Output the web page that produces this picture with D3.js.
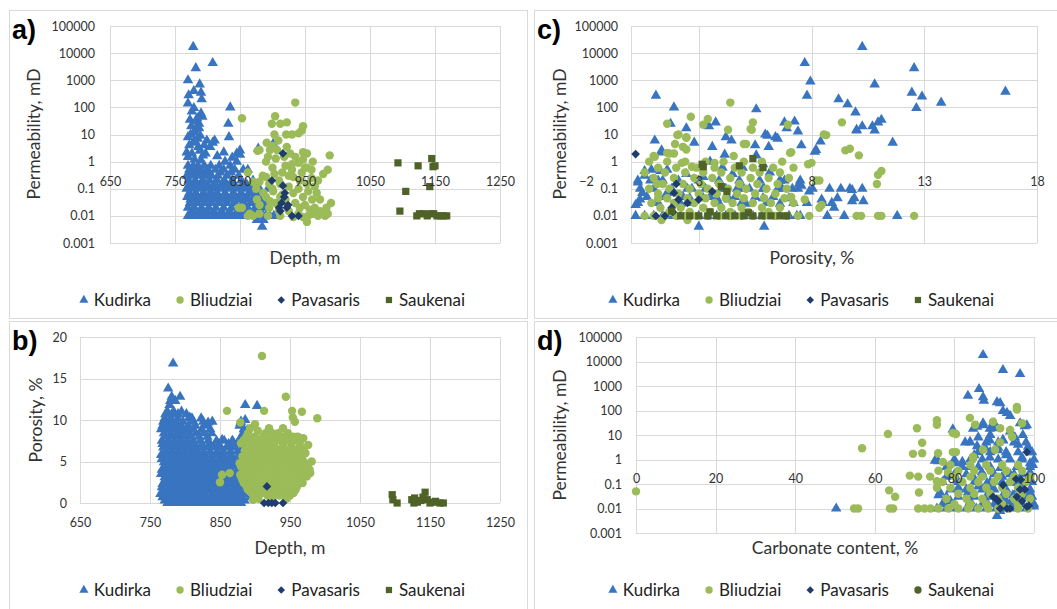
<!DOCTYPE html>
<html>
<head>
<meta charset="utf-8">
<script src="https://cdn.jsdelivr.net/npm/d3@7"></script>
<style>
  body { margin: 0; background: #fff; }
  svg { display: block; }
  text { font-family: Lato, "Open Sans", sans-serif; }
</style>
</head>
<body>
<svg id="chart" width="1057" height="609"></svg>
<script>
// ---- data ----
// series names, in drawing order
var seriesNames = ["Kudirka", "Bliudziai", "Pavasaris", "Saukenai"];

// tick values
var depthTicks = [650, 750, 850, 950, 1050, 1150, 1250];
var permTicks = [0.001, 0.01, 0.1, 1, 10, 100, 1000, 10000, 100000];
var porTicks = [0, 5, 10, 15, 20];
var porXTicks = [-2, 3, 8, 13, 18];
var carbTicks = [0, 20, 40, 60, 80, 100];

// a) depth vs permeability  [depth, perm]
var aKudirka = [[778,17000],[808,4300],[782,2800],[770,1000],[788,700],[790,350],[779,400],[771,280],[791,200],[770,140],[779,95],[835,100],[790,60],[773,35],[783,30],[787,25],[775,20],[770,8],[780,12],[787,17],[799,6],[811,6],[808,5],[832,25],[833,8],[778,5],[786,3.5],[768,2.2],[804,3.5],[825,2.2],[845,2],[878,3],[901,4.5],[776,2],[793,1.7],[781,15],[784,40],[776,70],[792,45],[774,10],[789,9],[780,6],[795,4],[772,4],[785,7],[788,2.5],[797,2],[770,1.5],[780,1.2],[790,1.1],[815,1.6],[827,1],[838,1.4],[850,2.6],[850,1.8],[862,0.5],[845,1],[886,0.007],[884,0.004],[876,0.007]];
// dense part, one row per permeability level: [perm, [depths]]
var aKudirkaRows = [
  [0.7,[770,778,785,795,805,818,835]],
  [0.5,[772,780,790,800,812,825,842,855]],
  [0.4,[775,784,793,803,820,836]],
  [0.3,[768,776,786,796,806,816,830,848]],
  [0.2,[771,781,792,803,815,826,838,852,870]],
  [0.15,[774,784,797,810,822,835,860]],
  [0.12,[770,780,791,802,814,828,842,852,864,876]],
  [0.1,[768,777,788,798,808,820,832,845,857,868,880,893]],
  [0.07,[772,782,794,805,815,827,840,852,865,876]],
  [0.05,[769,779,790,801,812,824,836,848,860,872,885]],
  [0.04,[774,785,796,807,818,829,841,853,864,876,888]],
  [0.03,[773,784,795,806,818,830,842,855,867,878,890]],
  [0.02,[770,780,791,802,813,825,837,850,862,874,886]],
  [0.015,[776,788,799,810,822,834,846,858,870,882]],
  [0.01,[770,776,782,788,794,800,806,812,818,824,830,836,842,848,854,860,866,872,878,884,890,896,902]]
];
var aBliudziai = [[853,40],[935,150],[904,47],[899,25],[912,25],[922,28],[947,20],[945,14],[930,10],[940,11],[909,6],[903,10],[921,10],[891,5],[900,3.8],[877,2.5],[907,2.7],[947,2.2],[988,1.7],[927,2],[893,1.5],[880,2.7],[896,2.7],[922,3.5],[953,2],[947,1.2],[962,1],[953,0.6],[985,0.5],[978,0.35],[862,0.4],[870,0.18],[880,0.18],[890,0.27],[903,0.35],[912,0.15],[932,0.27],[942,0.2],[953,0.15],[965,0.12],[968,0.07],[973,0.04],[961,0.04],[947,0.05],[932,0.07],[901,0.08],[886,0.07],[876,0.04],[896,0.035],[912,0.05],[942,0.02],[958,0.017],[973,0.015],[983,0.02],[853,0.02],[865,0.012],[880,0.012],[893,0.01],[912,0.01],[932,0.009],[947,0.009],[962,0.012],[981,0.01],[953,0.006],[870,0.01],[862,0.01],[848,0.02],[920,0.7],[930,0.5],[940,0.9],[950,0.6],[925,0.3],[915,0.4],[900,0.6],[890,1],[905,1.3],[935,1.5],[960,0.25],[970,0.2],[955,0.08],[940,0.1],[925,0.12],[910,0.2],[895,0.15],[885,0.3],[875,0.1],[890,0.05],[905,0.03],[920,0.04],[935,0.03],[950,0.025],[965,0.02],[925,0.015],[910,0.015],[895,0.02],[880,0.025],[940,0.012],[955,0.01],[970,0.01],[985,0.012],[990,0.03],[900,0.1],[915,0.06],[945,0.4],[930,0.8],[918,1.5],[960,0.5]];
var aPavasaris = [[916,2],[916,0.13],[919,0.07],[914,0.03],[922,0.02],[912,0.015],[940,0.01],[899,0.2],[918,0.05],[924,0.025],[930,0.01],[910,0.02]];
var aSaukenai = [[1093,0.9],[1124,0.7],[1145,1.3],[1147,0.65],[1150,0.7],[1105,0.08],[1142,0.12],[1096,0.015],[1122,0.01],[1126,0.012],[1132,0.012],[1138,0.01],[1143,0.012],[1148,0.012],[1153,0.01],[1158,0.01],[1163,0.01],[1168,0.01]];

// b) depth vs porosity  [depth, porosity]
var bKudirka = [[783,16.8],[776,13.8],[781,12.8],[793,12.8],[886,11.8],[903,11.7],[806,10.3],[833,9.7],[771,9.6],[886,10],[810,10.2],[839,9.8],[853,7.6],[867,7.4],[879,9.6],[889,8.8],[893,6.4],[893,0.7]];
// dense part: [porosity, [depths]]
var bKudirkaRows = [
  [0,[775,782,790,798,806,814,822,830,838,846,855,863,872,880]],
  [0.3,[771,779,787,795,803,810,818,826,834,842,850,859,867,876,885]],
  [0.7,[768,778,786,795,803,812,820,829,837,846,853,862,870,878]],
  [1.1,[765,774,783,792,801,810,819,828,838,847,857,866,874,884]],
  [1.5,[772,781,790,799,808,817,826,834,843,851,860,869,877]],
  [1.9,[767,776,786,795,804,813,823,832,841,851,860,870,879]],
  [2.3,[768,776,785,794,803,812,821,830,839,847,856,865,874,884]],
  [2.7,[772,781,790,799,808,817,826,836,845,854,863,872,887]],
  [3.1,[771,780,789,798,807,816,825,834,842,852,861,870,880]],
  [3.5,[766,775,784,793,802,811,820,829,838,847,856,866,875,884]],
  [4,[767,776,785,794,803,812,821,830,839,848,857,866,876,887]],
  [4.4,[771,780,789,798,807,816,825,834,844,853,862,871,880,890]],
  [4.9,[770,779,788,797,806,815,824,833,842,852,862,872,882]],
  [5.3,[767,776,785,794,803,812,821,830,839,849,858,868,878,887]],
  [5.8,[766,775,784,793,802,811,820,829,838,847,856,866,877,890]],
  [6.2,[772,781,790,799,808,817,826,836,846,855,865,875,886]],
  [6.7,[769,778,787,796,805,814,823,832,841,851,860,870,882]],
  [7.1,[768,777,786,795,804,813,824,836,848,862,874,888]],
  [7.5,[767,776,785,794,803,812,822,833,845,856,868,880,892]],
  [8,[773,782,791,800,809,820,832,880,890]],
  [8.4,[770,779,788,797,806,815,826,838,885]],
  [8.9,[766,775,784,793,802,812,824,836,884]],
  [9.3,[768,777,786,795,805,815,830,878]],
  [9.8,[769,778,787,797,812,826,880]],
  [10.2,[771,780,790,808,823]],
  [10.7,[772,781,790,802]],
  [11,[775,784,795]],
  [11.8,[778]],
  [12.3,[779,786]]
];
var bBliudziai = [[910,17.7],[944,12.8],[860,11.1],[913,11.1],[953,11.1],[967,11],[954,10.3],[957,9.8],[989,10.2],[879,9.7],[900,9.5],[904,8.7],[933,8.4],[947,8.4],[961,8],[969,7.8],[976,7],[981,5],[979,3.6],[850,2.5],[853,3.4],[864,3.6],[879,3.4],[897,0.4]];
var bBliudziaiRows = [
  [0.5,[905,925,945]],
  [0.9,[900,918,935,950]],
  [1.2,[895,910,925,940,955]],
  [1.6,[890,904,918,932,946,958]],
  [2,[888,900,912,924,936,948,960]],
  [2.4,[884,896,908,920,932,944,956,968]],
  [2.8,[882,894,906,918,930,942,954,966]],
  [3.2,[880,892,904,916,928,940,952,964,974]],
  [3.6,[886,898,910,922,934,946,958,970]],
  [4,[884,896,908,920,932,944,956,968,978]],
  [4.4,[880,892,904,916,928,940,952,964,975]],
  [4.8,[878,890,902,914,926,938,950,962,972]],
  [5.2,[884,896,908,920,932,944,956,968]],
  [5.6,[882,894,906,918,930,942,954,966]],
  [6,[888,900,912,924,936,948,960,972]],
  [6.4,[886,898,910,922,934,946,958,970]],
  [6.8,[892,904,916,928,940,952,964]],
  [7.2,[880,890,902,914,926,940,952,964]],
  [7.6,[884,896,908,920,934,946,958]],
  [8,[888,900,912,928,940,955]],
  [8.4,[890,915,925]],
  [9,[893,920,940]]
];
var bPavasaris = [[917,2],[913,0],[919,0],[924,0],[929,0],[940,0]];
var bSaukenai = [[1096,1],[1097,0.4],[1103,0],[1124,0.4],[1127,0],[1143,1.3],[1140,0.7],[1146,0.4],[1154,0.1],[1164,0],[1169,0],[1132,0.1],[1137,0.3],[1150,0],[1158,0.2],[1128,0.6]];

// c) porosity vs permeability  [porosity, perm]
var cKudirka = [[10.25,17000],[7.7,4300],[12.55,2800],[7.95,900],[10.8,700],[12.45,350],[16.6,380],[7.8,270],[12.9,250],[1.1,270],[9.2,200],[9.6,130],[13.75,150],[1.9,100],[5.55,85],[9.95,65],[12.65,95],[11.1,35],[7.25,30],[6.8,28],[3.75,28],[1.75,25],[3.45,20],[2.45,17],[10.95,28],[10.25,20],[10.7,20],[10,15],[7.4,13],[6.9,17],[5.95,10],[6.4,8],[4.2,8],[4.45,6],[1.05,6],[2.8,5],[3.6,3.5],[5.5,4],[6.1,3.5],[7.55,4],[8.4,5.5],[11.6,5],[8.15,2.3],[1.35,2.2],[4.15,1.8],[6.05,9],[6.5,7],[8.2,2.7],[10,14],[10.8,14],
  [1.35,2.6],[1.6,0.5],[0.6,0.45],[0.9,0.5],[0.3,0.17],[0.85,0.2],[0.5,0.07],[0.4,0.04],[0.2,0.025],[1.4,0.2],[1.6,0.07],[1.15,0.035],[2.45,0.35],[2.7,0.1],[3.2,0.27],[3.5,1],[4.05,0.6],[4.5,0.35],[4.95,0.6],[5.55,1.7],[5.85,0.8],[6.15,0.4],[6.6,0.2],[6.5,0.1],[7.15,0.1],[7.45,0.15],[7,0.045],[6.6,0.028],[5.85,0.1],[5.25,0.1],[4.7,0.1],[4.05,0.1],[3.8,0.045],[4.35,0.04],[5.1,0.028],[5.85,0.045],[2.2,0.028],[1.7,0.013],[2.6,0.045],[3.2,0.045],[8.8,0.1],[9.7,0.1],[11.8,0.01],[9.45,0.01],[8.7,0.01],[7.35,0.01],[10.3,0.035],[9.8,0.035],[9.3,0.1],[9.8,0.09],[8.9,0.03],[9,0.02],[8.5,0.03],[8.05,0.1],[7.55,0.13],[10.25,0.1],[5.9,0.004],[3,0.004],[9.15,0.045],[9.9,0.045],[7.8,0.03],[8.45,0.04],[7.9,0.08],[7.4,0.1],[6.8,0.2],[0.6,0.3],[1.3,0.45]];
var cKudirkaRows = [
  [0.2,[0.3,1.2,2.1,3,3.9,4.8,5.7,6.6,7.5]],
  [0.1,[0.4,1,1.8,2.5,3.3,4.2,5,5.9,6.7]],
  [0.05,[0.7,1.5,2.3,3.5,4.6,5.5,6.3]],
  [0.03,[0.3,1.2,2.6,3.9,4.9,6,7.2]],
  [0.01,[0.2,0.6,1,1.4,1.8,2.2,2.6,3,3.4,3.8,4.2,4.6,5,5.4,5.8,6.2,6.6,7,7.5]]
];
var cBliudziai = [[4.4,150],[2.65,45],[3.4,37],[1.6,25],[3.2,23],[5.4,28],[6.95,23],[9.35,28],[5.3,16],[2.45,8],[2.1,10],[4.3,15],[5,4.5],[8.55,10],[2.3,3.5],[2.45,2.8],[9.5,2.6],[10.1,1.7],[1,1.6],[1.6,2.1],[1.9,2],[7.05,2.1],[4.55,1.6],[10.95,0.33],[10.9,0.15],[12.55,0.01],[10.95,0.01],[10,0.01],[7.9,0.01],[8.35,0.02],[7.7,0.04],[8.2,0.2],[7.85,0.8],[2.05,9.5],[2.45,7.5],[1.95,4.5],[2.3,3.5],[1.7,2],[1.05,1.5],[2.25,0.9],[2.7,0.65],[3.7,0.9],[5.1,4.5],[5.35,15],[7.1,2.2],[8,0.9],[8.65,9.5],[9.7,3],[11.1,0.45],[11.1,0.01],[10.2,0.01],[8.35,0.2],[8.45,0.025],[7.1,0.05],[1.35,0.007],[2.5,0.007],[1.2,0.045],[1.15,0.15]];
var cBliudziaiRows = [
  [1,[0.8,1.6,2.4,3.3,4.1,5,5.8,6.7]],
  [0.6,[1.2,2,2.9,3.7,4.6,5.4,6.3,7.2]],
  [0.4,[0.6,1.5,2.4,3.2,4,4.9,5.7,6.6]],
  [0.25,[1,1.9,2.8,3.6,4.4,5.3,6.1,7]],
  [0.15,[1.4,2.3,3.1,3.9,4.8,5.6,6.5]],
  [0.1,[0.8,1.7,2.6,3.4,4.3,5.1,6,6.9]],
  [0.065,[1.2,2.1,3,3.8,4.7,5.5,6.4]],
  [0.045,[1.6,2.5,3.3,4.2,5,5.9,6.8]],
  [0.03,[0.9,1.9,2.8,3.7,4.5,5.4,6.2,7.2]],
  [0.02,[1.3,2.2,3.2,4,4.9,5.8,6.6]],
  [0.014,[1.7,2.6,3.5,4.4,5.2,6.1]],
  [0.01,[0.6,1,1.5,2,2.4,2.9,3.4,3.9,4.4,4.9,5.4,5.9,6.4,6.9,7.4]]
];
var cPavasaris = [[0.2,1.9],[1.1,0.01],[1.5,0.01],[2,0.15],[1.9,0.07],[2.1,0.04],[1.8,0.02],[3,0.04],[3.6,0.08],[1.85,0.014],[2.5,0.03]];
var cSaukenai = [[3.15,0.8],[3.2,0.65],[4.8,0.7],[5.4,1.3],[5.85,0.6],[4,0.12],[4.25,0.08],[1.8,0.015],[3.5,0.014],[5.2,0.013],[2.2,0.01],[2.6,0.01],[3,0.01],[3.4,0.01],[3.8,0.01],[4.2,0.01],[4.6,0.01],[5,0.01],[5.4,0.01],[5.8,0.01],[6.2,0.01],[6.6,0.01],[6.9,0.01]];

// d) carbonate vs permeability  [carbonate, perm]
var dKudirka = [[87.2,18500],[92.2,4500],[96.5,3100],[86.2,750],[83.4,400],[87.2,350],[87.4,250],[90.7,220],[92.2,95],[94,60],[97.7,23],[96.5,30],[84.7,18],[87.2,25],[88.9,18],[90,30],[79.6,17],[82.7,5],[85.7,3.5],[88.9,6],[92.2,6],[50.3,0.01],[75.1,0.9],[90.7,0.005],[100,0.012],[99.7,0.6],[99.5,0.03],[91.5,200],[93.2,80],[87.2,30],[89.7,19],[85.7,22],[98.2,25],[92.2,6.3],[95.2,8],[97.2,10],[98.5,3.3],[87.7,3],[83.9,5.2],[90.9,2.4],[88.9,1.2],[75.9,0.85],[80.2,0.7],[83.9,0.5],[86.9,0.3],[91.5,0.45],[95.7,0.5],[99,0.7],[80.7,0.14],[84.7,0.2],[88.2,0.11],[94,0.11],[98.2,0.14],[76.4,0.045],[83.4,0.045],[89.4,0.035],[94.7,0.035],[99,0.045],[91.5,0.008],[86,8],[89,10],[94,14],[96,4],[91,3],[93,1.5],[97,1.2],[85,1.5],[82,0.8],[99,2],[95,0.25],[92,0.2],[89,0.07],[86,0.08],[81,0.07],[97,0.07],[99,0.3],[96,0.02],[93,0.02],[88,0.02],[84,0.02],[79,0.02],[78,0.2],[76,0.035],[75.6,0.01],[78,0.01],[80.5,0.01],[83,0.01],[85.5,0.01],[88,0.01],[90.5,0.01],[93,0.01],[95.5,0.01],[98,0.01]];
var dKudirkaRows = [
  [5,[84,88,91,95,98]],
  [2,[86,89,93,96,99.5]],
  [1,[80,84,87,91,94,97,100]],
  [0.5,[78,82,86,89,92,96,99]],
  [0.25,[80,83,87,90,94,97]],
  [0.12,[77,81,85,89,92,96,99.5]],
  [0.06,[79,83,87,90,93,96,99]],
  [0.03,[78,81,85,88,92,95,98]],
  [0.015,[77,80,84,87,90,94,97,100]]
];
var dBliudziai = [[0,0.05],[54.8,0.01],[63.8,0.01],[63.6,0.055],[65.1,0.03],[56.8,2.9],[63.3,11],[70.6,19],[75.6,40],[75.6,26],[71.9,4.8],[69.6,1.7],[71.9,1.8],[83.9,50],[95.7,140],[97,30],[68.8,0.22],[70.9,0.2],[73.9,0.2],[75.6,0.13],[80.4,11],[80.4,2],[77.1,0.8],[78.4,0.3],[84.7,1.1],[71.1,0.045],[75.6,0.07],[55.8,0.01],[64.6,0.01],[70.9,0.01],[72.5,0.01],[74,0.01],[79.6,12],[85.2,26],[89.7,35],[91.5,19],[94,16],[94.5,8.5],[91.5,5],[90.2,2.5],[87.2,2.5],[79.6,2],[75.9,1.8],[84.7,1.3],[95.7,110]];
var dBliudziaiRows = [
  [0.6,[79,84,88,92,96]],
  [0.35,[76,81,85,89,93,97]],
  [0.2,[80,84,87,91,95,99]],
  [0.12,[77,82,86,90,94,98]],
  [0.07,[79,84,88,92,96]],
  [0.04,[81,85,89,93,97]],
  [0.025,[78,83,87,91,95,99]],
  [0.015,[80,84,88,92,96]],
  [0.01,[76,78.5,81,83.5,86,88.5,91,93.5,96,98.5]]
];
var dPavasaris = [[98.2,2],[95.5,0.16],[92.2,0.09],[89.7,0.03],[91,0.02],[91.5,0.01],[93.2,0.01],[95.7,0.03],[97,0.02],[98.2,0.012],[97.7,0.06],[96.5,0.06],[96.7,0.15],[94,0.01],[98.7,0.013],[90.5,0.025]];
var dSaukenai = [];

// ---- styles ----
var colors = { Kudirka: "#3874c0", Bliudziai: "#9bbb59", Pavasaris: "#1f3d6c", Saukenai: "#4f6228" };
var shapes = { Kudirka: "tri", Bliudziai: "circ", Pavasaris: "dia", Saukenai: "sq" };

function rowsToPoints(rows) {
  // [yValue, [xValues]] -> [[x, y], ...]
  return rows.flatMap(function(r){ return r[1].map(function(xv){ return [xv, r[0]]; }); });
}

function symbolPath(shape, k) {
  k = k || 1;
  if (shape == "tri") return d3.symbol(d3.symbolTriangle, 48 * k)();
  if (shape == "circ") return d3.symbol(d3.symbolCircle, 56 * k)();
  if (shape == "sq") return d3.symbol(d3.symbolSquare, 52 * k)();
  // Excel diamond = square turned 45 degrees
  var h = Math.sqrt(38 * k / 2);
  return "M0," + (-h) + "L" + h + ",0L0," + h + "L" + (-h) + ",0Z";
}

var svg = d3.select("#chart");
var fmt = d3.format("");

// light frames round the four chart objects
[[9, 10, 518, 308], [534, 10, 530, 308], [9, 321, 518, 300], [534, 321, 530, 300]].forEach(function(f){
  svg.append("rect").attr("x", f[0] + 0.5).attr("y", f[1] + 0.5)
    .attr("width", f[2]).attr("height", f[3])
    .attr("fill", "none").attr("stroke", "#d9d9d9");
});

function drawPanel(p) {
  var g = svg.append("g");
  var x = p.x, y = p.y;
  var y0 = y.range()[0], y1 = y.range()[1];

  // gridlines
  g.append("g").selectAll("line").data(p.yTicks).enter().append("line")
    .attr("x1", p.gridLeft).attr("x2", x.range()[1])
    .attr("y1", function(d){ return Math.round(y(d)) + 0.5; })
    .attr("y2", function(d){ return Math.round(y(d)) + 0.5; })
    .attr("stroke", "#d9d9d9");
  g.append("g").selectAll("line").data(p.xGrid).enter().append("line")
    .attr("x1", function(d){ return Math.round(x(d)) + 0.5; })
    .attr("x2", function(d){ return Math.round(x(d)) + 0.5; })
    .attr("y1", y1).attr("y2", y0)
    .attr("stroke", "#d9d9d9");

  // series
  p.series.forEach(function(s){
    g.append("g").selectAll("path").data(s.data).enter().append("path")
      .attr("d", symbolPath(shapes[s.name]))
      .attr("transform", function(d){ return "translate(" + x(d[0]) + "," + y(d[1]) + ")"; })
      .attr("fill", colors[s.name]);
  });

  // tick labels
  var ya = g.append("g").attr("transform", "translate(" + p.yLabelX + ",0)")
    .call(d3.axisLeft(y).tickValues(p.yTicks).tickFormat(fmt).tickSize(0).tickPadding(0));
  var xa = g.append("g").attr("transform", "translate(0," + y(p.xCross) + ")")
    .call(d3.axisBottom(x).tickValues(p.xTicks).tickFormat(fmt).tickSize(0).tickPadding(15));
  [ya, xa].forEach(function(a){
    a.select(".domain").remove();
    a.selectAll("text").attr("fill", "#333").style("font-size", "12.5px")
      .style("font-family", "Lato, sans-serif");
  });

  // axis titles
  g.append("text").attr("x", p.xTitleX).attr("y", p.xTitleY)
    .attr("text-anchor", "middle").attr("fill", "#333")
    .style("font-size", "17.5px").text(p.xTitle);
  g.append("text").attr("transform", "translate(" + p.yTitleX + "," + p.yTitleY + ") rotate(-90)")
    .attr("text-anchor", "middle").attr("fill", "#333")
    .style("font-size", "17.5px").text(p.yTitle);

  // panel letter
  g.append("text").attr("x", p.letterX).attr("y", p.letterY)
    .style("font-family", "'Liberation Sans', Arial, sans-serif")
    .style("font-weight", "bold").style("font-size", "27px").attr("fill", "#000")
    .text(p.letter);

  // legend, centred under the chart
  var leg = g.append("g");
  var cursor = 0;
  p.legend.forEach(function(item){
    var it = leg.append("g").attr("transform", "translate(" + cursor + ",0)");
    it.append("path").attr("d", symbolPath(item.shape, 0.75))
      .attr("transform", "translate(5,0)").attr("fill", colors[item.name]);
    var t = it.append("text").attr("x", 15).attr("y", 0).attr("dy", "0.35em")
      .attr("fill", "#222").style("font-size", "17px").text(item.name);
    cursor += 15 + t.node().getComputedTextLength() + 24;
  });
  var total = cursor - 24;
  leg.attr("transform", "translate(" + (p.legendCX - total / 2) + "," + p.legendY + ")");
}

function legendItems(lastShape) {
  return seriesNames.map(function(n){
    return { name: n, shape: (n == "Saukenai" && lastShape) ? lastShape : shapes[n] };
  });
}

function seriesOf(lists) {
  return seriesNames.map(function(n, i){ return { name: n, data: lists[i] }; });
}

// a)
drawPanel({
  letter: "a)", letterX: 12, letterY: 39,
  x: d3.scaleLinear().domain([650, 1250]).range([110, 500]),
  y: d3.scaleLog().domain([0.001, 100000]).range([243, 26]),
  xTicks: depthTicks, xGrid: depthTicks, yTicks: permTicks, gridLeft: 110,
  xCross: 1, yLabelX: 95,
  xTitle: "Depth, m", xTitleX: 305, xTitleY: 264,
  yTitle: "Permeability, mD", yTitleX: 40, yTitleY: 134,
  legendCX: 272, legendY: 300, legend: legendItems(),
  series: seriesOf([aKudirka.concat(rowsToPoints(aKudirkaRows)), aBliudziai, aPavasaris, aSaukenai])
});

// b)
drawPanel({
  letter: "b)", letterX: 12, letterY: 350,
  x: d3.scaleLinear().domain([650, 1250]).range([80, 500]),
  y: d3.scaleLinear().domain([0, 20]).range([503, 337]),
  xTicks: depthTicks, xGrid: depthTicks, yTicks: porTicks, gridLeft: 80,
  xCross: 0, yLabelX: 67,
  xTitle: "Depth, m", xTitleX: 290, xTitleY: 554,
  yTitle: "Porosity, %", yTitleX: 42, yTitleY: 420,
  legendCX: 272, legendY: 590, legend: legendItems(),
  series: seriesOf([rowsToPoints(bKudirkaRows).concat(bKudirka), rowsToPoints(bBliudziaiRows).concat(bBliudziai), bPavasaris, bSaukenai])
});

// c)
var cx = d3.scaleLinear().domain([-2, 18]).range([586, 1037]);
drawPanel({
  letter: "c)", letterX: 537, letterY: 39,
  x: cx,
  y: d3.scaleLog().domain([0.001, 100000]).range([243, 26]),
  xTicks: porXTicks, xGrid: [0, 3, 8, 13, 18], yTicks: permTicks, gridLeft: cx(0),
  xCross: 1, yLabelX: 618,
  xTitle: "Porosity, %", xTitleX: 812, xTitleY: 264,
  yTitle: "Permeability, mD", yTitleX: 566, yTitleY: 134,
  legendCX: 801, legendY: 300, legend: legendItems(),
  series: seriesOf([cKudirka.concat(rowsToPoints(cKudirkaRows)), cBliudziai.concat(rowsToPoints(cBliudziaiRows)), cPavasaris, cSaukenai])
});

// d)
drawPanel({
  letter: "d)", letterX: 537, letterY: 350,
  x: d3.scaleLinear().domain([0, 100]).range([636, 1034]),
  y: d3.scaleLog().domain([0.001, 100000]).range([533, 337]),
  xTicks: carbTicks, xGrid: carbTicks, yTicks: permTicks, gridLeft: 636,
  xCross: 1, yLabelX: 622,
  xTitle: "Carbonate content, %", xTitleX: 835, xTitleY: 554,
  yTitle: "Permeability, mD", yTitleX: 566, yTitleY: 435,
  legendCX: 801, legendY: 590, legend: legendItems("circ"),
  series: seriesOf([dKudirka.concat(rowsToPoints(dKudirkaRows)), dBliudziai.concat(rowsToPoints(dBliudziaiRows)), dPavasaris, dSaukenai])
});
</script>
</body>
</html>
